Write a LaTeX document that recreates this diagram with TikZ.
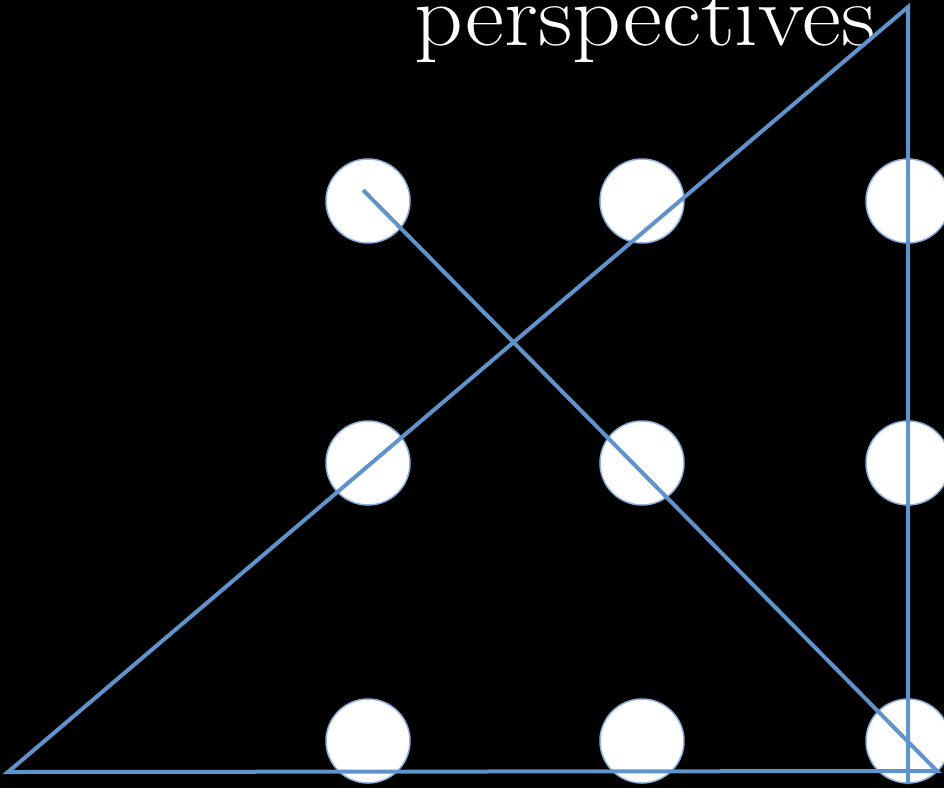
\documentclass[tikz,border=0pt]{standalone}
\usepackage{graphicx}
\usepackage{tikz}
\usetikzlibrary{positioning}
\definecolor{linkblue}{RGB}{96,146,204}
\definecolor{rimblue}{RGB}{140,176,222}

\begin{document}
\begin{tikzpicture}[
  x=1pt,y=-1pt,
  dot/.style={draw=rimblue,line width=1.5pt,fill=white,circle,minimum size=84pt,inner sep=0pt},
  link/.style={draw=linkblue,line width=4pt,line join=miter}
]
  \fill[black] (0,0) rectangle (944,788);
  \useasboundingbox (0,0) rectangle (944,788);

  \node[anchor=base west,inner sep=0pt,text=white,font=\fontsize{88}{90}\selectfont]
    (title) at (414,45) {\scalebox{1.085}[1]{perspectives}};

  % nine dots
  \node[dot] (d11) at (368,201) {};
  \node[dot] (d12) at (642,201) {};
  \node[dot] (d13) at (908,201) {};
  \node[dot] (d21) at (368,463) {};
  \node[dot] (d22) at (642,463) {};
  \node[dot] (d23) at (908,463) {};
  \node[dot] (d31) at (368,741) {};
  \node[dot] (d32) at (642,741) {};
  \node[dot] (d33) at (908,741) {};

  % four straight strokes
  \coordinate (start) at (363,190);
  \coordinate (lowright) at (937,771);
  \coordinate (lowleft) at (8,772);
  \coordinate (top) at (908,7);
  \coordinate (finish) at (908,784);

  \draw[link] (start) -- (lowright) -- (lowleft) -- (top) -- (finish);
\end{tikzpicture}
\end{document}
